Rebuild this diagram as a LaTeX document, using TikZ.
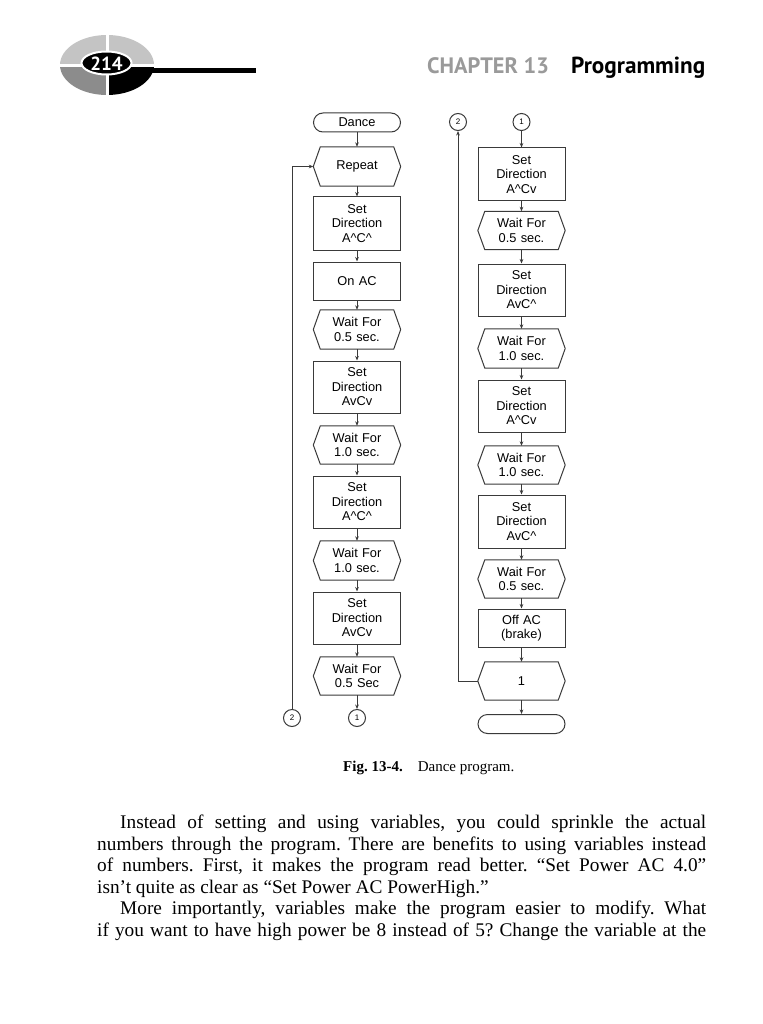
\documentclass[tikz,border=0pt]{standalone}
\usepackage{fontspec}
\setmainfont{Liberation Serif}
\newfontfamily\arial{Liberation Sans}
\newfontfamily\ptsans{PT Sans}
\usetikzlibrary{arrows.meta,shapes.geometric}
\definecolor{linec}{HTML}{3A3A3A}
\definecolor{chapgray}{HTML}{9A9A9A}
\definecolor{lgray}{HTML}{C4C4C4}
\definecolor{mgray}{HTML}{8C8C8C}
\newcommand\hexdraw[1]{\draw[hexline] ([xshift=7pt]#1.north west) -- ([xshift=-7pt]#1.north east) -- (#1.east) -- ([xshift=-7pt]#1.south east) -- ([xshift=7pt]#1.south west) -- (#1.west) -- cycle;}
\newcommand\ca{\textasciicircum}
\frenchspacing
\begin{document}
\begin{tikzpicture}[x=1pt,y=-1pt,
  boxfont/.style={font=\arial\fontsize{12.8}{14.5}\selectfont},
  proc/.style={draw=linec, line width=1pt, minimum width=87pt, text width=84pt, align=center, inner sep=0pt, boxfont},
  hexbase/.style={draw=none, minimum width=87pt, text width=84pt, align=center, inner sep=0pt, boxfont},
  hexline/.style={draw=linec, line width=1pt, line join=miter},
  term/.style={draw=linec, line width=1pt, rounded corners=9.5pt, minimum width=87pt, minimum height=19pt, inner sep=0pt, boxfont},
  conn/.style={circle, draw=linec, line width=1pt, minimum size=17pt, inner sep=0pt, font=\arial\fontsize{8}{8}\selectfont},
  arr/.style={draw=linec, line width=0.9pt, -{Stealth[length=4.5pt,width=3.6pt]}},
  para/.style={anchor=base west, inner sep=0pt, font=\fontsize{19.3}{21}\selectfont}
]
\useasboundingbox (0,0) rectangle (762,1024);
\fill[white] (0,0) rectangle (762,1024);

% ---------- header logo ----------
\begin{scope}
  \clip (107,65) ellipse [x radius=47pt, y radius=30pt];
  \fill[lgray] (55,30) rectangle (106,64.5);
  \fill[lgray] (108.5,30) rectangle (160,64.5);
  \fill[mgray] (55,67) rectangle (106,100);
  \fill[black] (108.5,67) rectangle (160,100);
\end{scope}
\fill[black] (120,68) rectangle (256,73);
\node[ellipse, fill=black, draw=white, line width=2pt, minimum width=50pt, minimum height=23pt, inner sep=0pt] (logo) at (106.5,63) {};
\node[inner sep=0pt, text=white, font=\ptsans\bfseries\fontsize{19}{19}\selectfont] (pnum) at (106.5,63.5) {214};

\node[anchor=base west, inner sep=0pt, text=chapgray, font=\ptsans\bfseries\fontsize{22.3}{22}\selectfont] (chap) at (427,73.5) {CHAPTER 13};
\node[anchor=base west, inner sep=0pt, text=black, font=\ptsans\bfseries\fontsize{23.2}{22}\selectfont] (prog) at (571,73.5) {Programming};

% ---------- left column ----------
\node[term] (dance) at (357,122.5) {Dance};
\node[hexbase, minimum height=39pt] (rep) at (357,166.5) {Repeat}; \hexdraw{rep}
\node[proc, minimum height=53pt] (l1) at (357,223.5) {Set\\Direction\\A\ca C\ca};
\node[proc, minimum height=38pt] (l2) at (357,281) {On AC};
\node[hexbase, minimum height=39pt] (l3) at (357,329.5) {Wait For\\0.5 sec.}; \hexdraw{l3}
\node[proc, minimum height=52pt] (l4) at (357,387) {Set\\Direction\\AvCv};
\node[hexbase, minimum height=38pt] (l5) at (357,445) {Wait For\\1.0 sec.}; \hexdraw{l5}
\node[proc, minimum height=52pt] (l6) at (357,502) {Set\\Direction\\A\ca C\ca};
\node[hexbase, minimum height=39pt] (l7) at (357,560.5) {Wait For\\1.0 sec.}; \hexdraw{l7}
\node[proc, minimum height=52pt] (l8) at (357,618) {Set\\Direction\\AvCv};
\node[hexbase, minimum height=38pt] (l9) at (357,676) {Wait For\\0.5 Sec}; \hexdraw{l9}
\node[conn] (lc1) at (357,718) {1};
\node[conn] (lc2) at (292,718) {2};

\draw[arr] (dance.south) -- (rep.north);
\draw[arr] (rep.south) -- (l1.north);
\draw[arr] (l1.south) -- (l2.north);
\draw[arr] (l2.south) -- (l3.north);
\draw[arr] (l3.south) -- (l4.north);
\draw[arr] (l4.south) -- (l5.north);
\draw[arr] (l5.south) -- (l6.north);
\draw[arr] (l6.south) -- (l7.north);
\draw[arr] (l7.south) -- (l8.north);
\draw[arr] (l8.south) -- (l9.north);
\draw[arr] (l9.south) -- (lc1.north);
\draw[arr] (lc2.north) |- (rep.west);

% ---------- right column ----------
\node[conn] (rc2) at (458,122) {2};
\node[conn] (rc1) at (521.5,122) {1};
\node[proc, minimum height=53pt] (r1) at (521.5,174.5) {Set\\Direction\\A\ca Cv};
\node[hexbase, minimum height=38pt] (r2) at (521.5,230.5) {Wait For\\0.5 sec.}; \hexdraw{r2}
\node[proc, minimum height=52pt] (r3) at (521.5,290) {Set\\Direction\\AvC\ca};
\node[hexbase, minimum height=39pt] (r4) at (521.5,348.5) {Wait For\\1.0 sec.}; \hexdraw{r4}
\node[proc, minimum height=52pt] (r5) at (521.5,406) {Set\\Direction\\A\ca Cv};
\node[hexbase, minimum height=38pt] (r6) at (521.5,465) {Wait For\\1.0 sec.}; \hexdraw{r6}
\node[proc, minimum height=53pt] (r7) at (521.5,521.5) {Set\\Direction\\AvC\ca};
\node[hexbase, minimum height=38pt] (r8) at (521.5,579) {Wait For\\0.5 sec.}; \hexdraw{r8}
\node[proc, minimum height=38pt] (r9) at (521.5,628) {Off AC\\(brake)};
\node[hexbase, minimum height=38pt] (r10) at (521.5,681) {1}; \hexdraw{r10}
\node[term] (rend) at (521.5,724) {};

\draw[arr] (rc1.south) -- (r1.north);
\draw[arr] (r1.south) -- (r2.north);
\draw[arr] (r2.south) -- (r3.north);
\draw[arr] (r3.south) -- (r4.north);
\draw[arr] (r4.south) -- (r5.north);
\draw[arr] (r5.south) -- (r6.north);
\draw[arr] (r6.south) -- (r7.north);
\draw[arr] (r7.south) -- (r8.north);
\draw[arr] (r8.south) -- (r9.north);
\draw[arr] (r9.south) -- (r10.north);
\draw[arr] (r10.south) -- (rend.north);
\draw[arr] (r10.west) -| (rc2.south);

% ---------- caption ----------
\node[anchor=base west, inner sep=0pt, font=\fontsize{15}{18}\selectfont] (cap) at (343,771) {\textbf{Fig. 13-4.}\hspace{1em}Dance program.};

% ---------- paragraph ----------
\node[para] (p1) at (120,828) {\makebox[586pt][s]{Instead of setting and using variables, you could sprinkle the actual}};
\node[para] (p2) at (97,850) {\makebox[609pt][s]{numbers through the program. There are benefits to using variables instead}};
\node[para] (p3) at (97,871.5) {\makebox[609pt][s]{of numbers. First, it makes the program read better. “Set Power AC 4.0”}};
\node[para] (p4) at (97,893) {isn’t quite as clear as “Set Power AC PowerHigh.”};
\node[para] (p5) at (120,914.5) {\makebox[586pt][s]{More importantly, variables make the program easier to modify. What}};
\node[para] (p6) at (97,936) {\makebox[609pt][s]{if you want to have high power be 8 instead of 5? Change the variable at the}};
\end{tikzpicture}
\end{document}
